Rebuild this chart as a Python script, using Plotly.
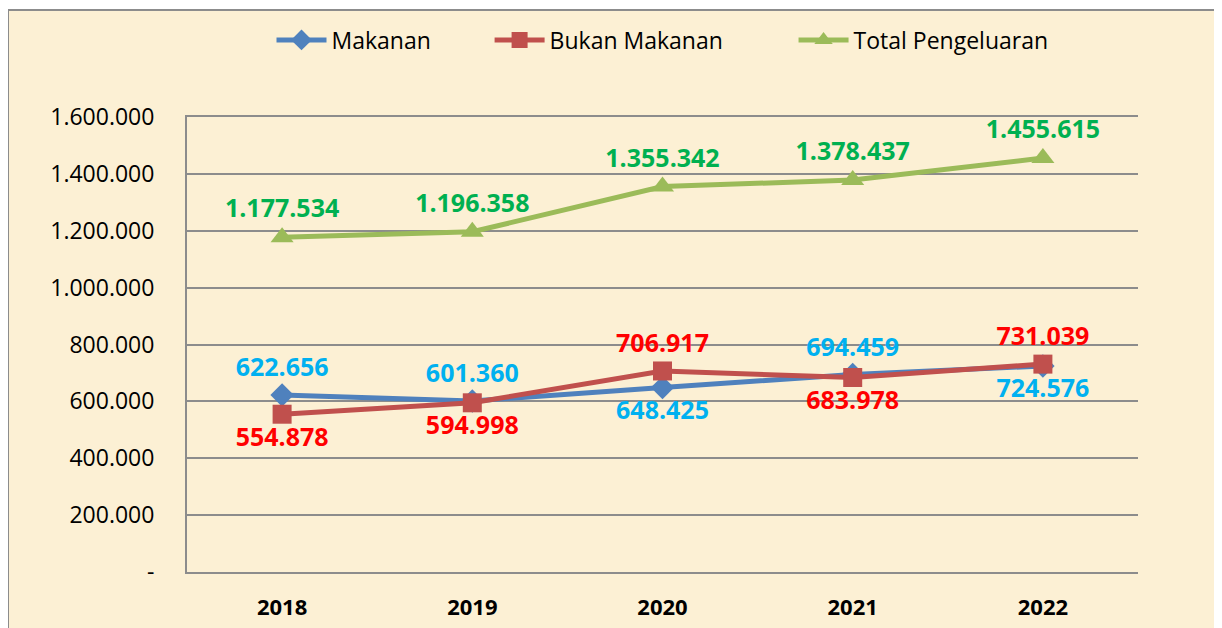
import plotly.graph_objects as go

years = ["2018", "2019", "2020", "2021", "2022"]
makanan = [622656, 601360, 648425, 694459, 724576]
bukan_makanan = [554878, 594998, 706917, 683978, 731039]
total = [1177534, 1196358, 1355342, 1378437, 1455615]
tick_vals = [0, 200000, 400000, 600000, 800000, 1000000, 1200000, 1400000, 1600000]
tick_text = ["-", "200.000", "400.000", "600.000", "800.000", "1.000.000", "1.200.000", "1.400.000", "1.600.000"]

def fmt(v):
    return f"{v:,}".replace(",", ".")

pos_mak = ["top center", "top center", "bottom center", "top center", "bottom center"]
pos_bm = ["bottom center", "bottom center", "top center", "bottom center", "top center"]
pos_tot = ["top center"] * 5

FONT = "Open Sans"
LBL = 25
GAP = "\u00a0" * 9
fig = go.Figure()
fig.add_trace(go.Scatter(
    x=years, y=makanan, name="Makanan" + GAP, mode="lines+markers+text",
    line=dict(color="#4F81BD", width=5),
    marker=dict(symbol="diamond", size=18, color="#4F81BD"),
    text=[fmt(v) for v in makanan], textposition=pos_mak,
    textfont=dict(color="#00B0F0", size=LBL, family=FONT, weight="bold"),
))
fig.add_trace(go.Scatter(
    x=years, y=bukan_makanan, name="Bukan Makanan" + GAP + "\u00a0" * 2, mode="lines+markers+text",
    line=dict(color="#C0504D", width=5),
    marker=dict(symbol="square", size=19, color="#C0504D"),
    text=[fmt(v) for v in bukan_makanan], textposition=pos_bm,
    textfont=dict(color="#FF0000", size=LBL, family=FONT, weight="bold"),
))
fig.add_trace(go.Scatter(
    x=years, y=total, name="Total Pengeluaran", mode="lines+markers+text",
    line=dict(color="#9BBB59", width=5),
    marker=dict(symbol="triangle-up", size=20, color="#9BBB59"),
    text=[fmt(v) for v in total], textposition=pos_tot,
    textfont=dict(color="#00B050", size=LBL, family=FONT, weight="bold"),
))

# page has 8px body margin; compensate
OFF = 8
W, H = 1222 - OFF, 628 - OFF
L, T = 187 - OFF, 117 - OFF
R = W - (1138 - OFF)
B = H - (572 - OFF)
pw, ph = W - L - R, H - T - B
x0 = (0 - L) / pw
y1 = 1 + (T - 2) / ph
x1 = 1 + (R + 5) / pw
y0 = -(B + 5) / ph

fig.update_layout(
    width=W, height=H,
    margin=dict(l=L, r=R, t=T, b=B, autoexpand=False),
    paper_bgcolor="white",
    plot_bgcolor="rgba(0,0,0,0)",
    font=dict(family=FONT, color="black", size=22),
    showlegend=True,
    legend=dict(orientation="h", x=0.5, xanchor="center", y=1 + (T - 32) / ph, yanchor="middle",
                font=dict(size=23, family=FONT), bgcolor="rgba(0,0,0,0)",
                itemwidth=50, tracegroupgap=0),
    xaxis=dict(type="category", range=[-0.5, 4.5], showgrid=False, automargin=False,
               showline=True, mirror=True, linecolor="#8C8C8C", linewidth=2,
               ticks="", tickfont=dict(size=22, family=FONT, weight="bold"), ticklabelstandoff=15),
    yaxis=dict(range=[0, 1600000], tickvals=tick_vals, ticktext=tick_text, automargin=False,
               showgrid=True, gridcolor="#8C8C8C", gridwidth=2,
               showline=True, linecolor="#8C8C8C", linewidth=2,
               zeroline=True, zerolinecolor="#8C8C8C", zerolinewidth=2,
               tickfont=dict(size=23, family=FONT), ticks="", ticklabelstandoff=26),
    shapes=[
        dict(type="rect", xref="paper", yref="paper", x0=x0, x1=x1, y0=y0, y1=y1,
             fillcolor="#FCF0D4", line=dict(color="#8C8C8C", width=2), layer="below"),
    ],
)
fig.write_html("out.html")
